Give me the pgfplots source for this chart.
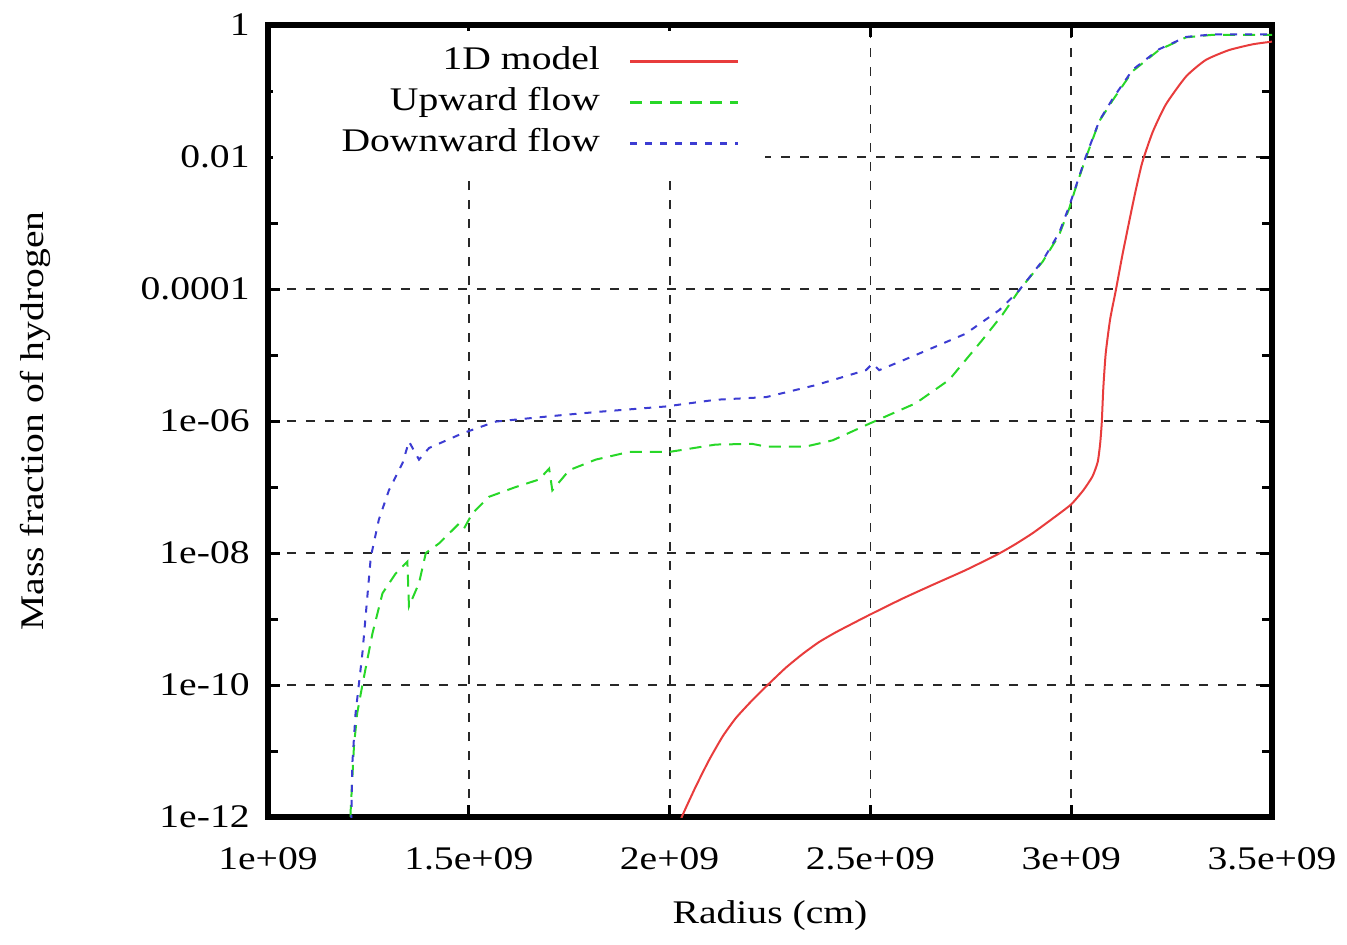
\documentclass[border=0pt]{standalone}
\usepackage{fontspec}
\setmainfont{Liberation Serif}[FakeStretch=1.2]
\usepackage{pgfplots}
\pgfplotsset{compat=1.18}
\definecolor{cRed}{RGB}{232,60,60}
\definecolor{cGreen}{RGB}{40,215,40}
\definecolor{cBlue}{RGB}{60,60,210}
\definecolor{cGrid}{RGB}{40,40,40}
% x values in units of 1e9 cm
\pgfplotstableread{
x y
2.020 7.1e-13
2.036 1.2e-12
2.065 2.88e-12
2.098 7.24e-12
2.132 1.66e-11
2.165 3.16e-11
2.206 5.9e-11
2.244 1.0e-10
2.289 1.82e-10
2.331 2.95e-10
2.372 4.47e-10
2.414 6.3e-10
2.455 8.5e-10
2.497 1.15e-9
2.580 2.04e-9
2.660 3.4e-9
2.737 5.5e-9
2.816 9.5e-9
2.860 1.35e-8
2.904 2.0e-8
2.950 3.2e-8
2.999 5.4e-8
3.030 8.9e-8
3.053 1.45e-7
3.066 2.4e-7
3.072 4.5e-7
3.076 9.3e-7
3.080 3.2e-6
3.086 1.07e-5
3.097 3.5e-5
3.111 9.5e-5
3.127 3.16e-4
3.145 1.1e-3
3.160 3.0e-3
3.177 8.3e-3
3.203 2.4e-2
3.236 6.3e-2
3.286 0.166
3.335 0.295
3.393 0.417
3.452 0.51
3.500 0.56
}\redtab
\pgfplotstableread{
x y
1.205 5e-13
1.206 1.3e-12
1.214 1.17e-11
1.222 3.7e-11
1.235 1.0e-10
1.260 6.0e-10
1.285 2.45e-9
1.318 4.9e-9
1.347 7.4e-9
1.351 1.55e-9
1.376 3.5e-9
1.393 1.0e-8
1.426 1.4e-8
1.476 2.8e-8
1.488 2.35e-8
1.509 4.0e-8
1.550 7.1e-8
1.617 1.0e-7
1.675 1.3e-7
1.700 1.9e-7
1.708 8.9e-8
1.750 1.8e-7
1.816 2.6e-7
1.899 3.4e-7
1.999 3.4e-7
2.115 4.4e-7
2.206 4.5e-7
2.240 4.1e-7
2.339 4.1e-7
2.406 5.1e-7
2.497 9.1e-7
2.613 1.86e-6
2.696 4.2e-6
2.779 1.7e-5
2.829 4.1e-5
2.870 9.5e-5
2.929 2.6e-4
2.970 6.6e-4
2.995 1.66e-3
3.011 3.4e-3
3.036 9.5e-3
3.070 3.5e-2
3.103 7.2e-2
3.153 0.2
3.219 0.42
3.286 0.65
3.352 0.71
3.500 0.71
}\greentab
\pgfplotstableread{
x y
1.207 5e-13
1.210 6.5e-12
1.218 3.7e-11
1.235 3.0e-10
1.256 8.7e-9
1.276 3.2e-8
1.301 8.9e-8
1.335 2.3e-7
1.351 4.9e-7
1.376 2.6e-7
1.401 3.9e-7
1.484 6.5e-7
1.567 9.8e-7
1.650 1.1e-6
1.733 1.23e-6
1.824 1.38e-6
1.990 1.66e-6
2.115 2.1e-6
2.240 2.3e-6
2.364 3.5e-6
2.489 5.9e-6
2.505 7.4e-6
2.522 5.9e-6
2.613 1.0e-5
2.737 2.1e-5
2.821 4.8e-5
2.870 9.5e-5
2.929 2.7e-4
2.970 7.1e-4
2.995 1.8e-3
3.011 3.5e-3
3.036 1.0e-2
3.070 3.55e-2
3.103 7.6e-2
3.153 0.21
3.219 0.43
3.286 0.66
3.352 0.72
3.500 0.72
}\bluetab
\begin{document}
\fontsize{16.5}{19}\selectfont
\begin{tikzpicture}
\begin{axis}[
  scale only axis, width=502pt, height=396pt,
  xmin=1, xmax=3.5, ymode=log, ymin=1e-12, ymax=1,
  xtick={1,1.5,2,2.5,3,3.5},
  xticklabels={1e+09,1.5e+09,2e+09,2.5e+09,3e+09,3.5e+09},
  ytick={1e-12,1e-10,1e-8,1e-6,1e-4,1e-2,1},
  yticklabels={1e-12,1e-10,1e-08,1e-06,0.0001,0.01,1},
  minor ytick={1e-11,1e-9,1e-7,1e-5,1e-3,1e-1},
  grid=major,
  grid style={cGrid, dash pattern=on 4.5pt off 5pt, line width=0.9pt},
  axis line style={line width=3pt, line join=miter},
  tick style={black, line width=1.5pt},
  major tick length=6pt, minor tick length=5pt,
  tick align=inside,
  xticklabel shift=9.5pt, yticklabel shift=3.5pt,
  every axis x label/.style={at={(axis description cs:0.5,-0.124)},anchor=center},
  every axis y label/.style={at={(axis description cs:-0.232,0.5)},rotate=90,anchor=center},
  xlabel={Radius (cm)}, ylabel={Mass fraction of hydrogen},
  legend plot pos=right, legend cell align=right,
  legend style={at={(0.495,0.993)}, anchor=north east, draw=none, fill=white,
    inner xsep=12.5pt, inner ysep=5pt, row sep=0pt, column sep=12.5pt,
    nodes={text height=12pt, text depth=4pt, inner ysep=2.25pt}},
  legend image code/.code={\draw[#1, line width=1.3pt] (0pt,0pt) -- (54pt,0pt);},
  clip=true,
]
\coordinate (SW) at (rel axis cs:0,0);
\coordinate (NE) at (rel axis cs:1,1);
\addplot[cRed, line width=1pt, smooth, tension=0.35] table[x=x,y=y] {\redtab};
\addlegendentry{1D model}
\addplot[cGreen, line width=1pt, dash pattern=on 6pt off 4pt] table[x=x,y=y] {\greentab};
\addlegendentry{Upward flow}
\addplot[cBlue, line width=1pt, dash pattern=on 3.5pt off 4pt] table[x=x,y=y] {\bluetab};
\addlegendentry{\hspace*{20pt}Downward flow}
\end{axis}
\pgfresetboundingbox
\path[use as bounding box] ([shift={(-134pt,-63.5pt)}]SW) rectangle ([shift={(37.5pt,12.5pt)}]NE);
\end{tikzpicture}
\end{document}
